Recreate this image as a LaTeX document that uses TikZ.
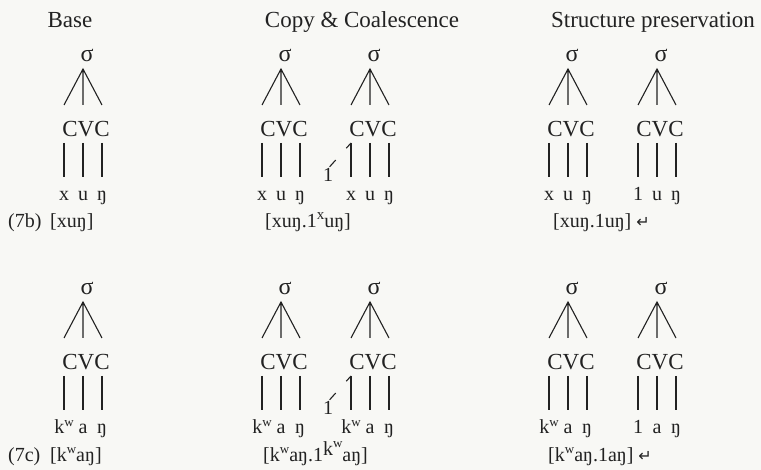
\documentclass[tikz,border=0pt]{standalone}
\usepackage{fontspec}
\setmainfont{Liberation Serif}
\newfontfamily\symfont{DejaVu Sans}
\definecolor{ink}{HTML}{222222}
\definecolor{paper}{HTML}{F8F8F5}
\newcommand\kw{k\raisebox{0.36em}{\fontsize{13}{13}\selectfont w}}
\newcommand\supx{\raisebox{0.42em}{\fontsize{15}{15}\selectfont x}}
\newcommand\retsym{\hspace{5pt}{\symfont\fontsize{16}{16}\selectfont ↵}}
% #1 name, #2 x of middle line, #3 row offset, #4-#6 segments
\newcommand\syltree[6]{%
  \node[sig] (#1-s) at ({#2+4},{#3+62}) {σ};
  \coordinate (#1-a) at ({#2},{#3+69});
  \coordinate (#1-t1) at ({#2-19},{#3+105});
  \coordinate (#1-t2) at ({#2},{#3+105});
  \coordinate (#1-t3) at ({#2+19},{#3+105});
  \node[skel] (#1-k) at ({#2+3},{#3+137}) {CVC};
  \coordinate (#1-b1) at ({#2-19},{#3+143});
  \coordinate (#1-b2) at ({#2},{#3+143});
  \coordinate (#1-b3) at ({#2+19},{#3+143});
  \coordinate (#1-c1) at ({#2-19},{#3+177});
  \coordinate (#1-c2) at ({#2},{#3+177});
  \coordinate (#1-c3) at ({#2+19},{#3+177});
  \node[seg] (#1-g1) at ({#2-19},{#3+201}) {#4};
  \node[seg] (#1-g2) at ({#2},{#3+201}) {#5};
  \node[seg] (#1-g3) at ({#2+19},{#3+201}) {#6};
  \draw[assoc] (#1-t1) -- (#1-a) -- (#1-t3) (#1-a) -- (#1-t2);
  \draw[assoc] (#1-b1) -- (#1-c1) (#1-b2) -- (#1-c2) (#1-b3) -- (#1-c3);
}
\begin{document}
\begin{tikzpicture}[x=1pt,y=-1pt,
  every node/.style={inner sep=0pt, text=ink},
  title/.style={font=\fontsize{23}{23}\selectfont, anchor=base},
  sig/.style={font=\fontsize{24}{24}\selectfont, anchor=base},
  skel/.style={font=\fontsize{23}{23}\selectfont, anchor=base},
  seg/.style={font=\fontsize{20}{20}\selectfont, anchor=base},
  lab/.style={font=\fontsize{20}{20}\selectfont, anchor=base west},
  assoc/.style={draw=ink, line width=1.1pt},
  hookdash/.style={draw=ink, line width=1.1pt, dash pattern=on 7pt off 16pt on 9pt off 30pt}]
\path[fill=paper] (0,0) rectangle (761,470);
\useasboundingbox (0,0) rectangle (761,470);
% titles
\node[title] (base) at (70,28) {Base};
\node[title] (copy) at (362,28) {Copy \& Coalescence};
\node[title] (struct) at (653,28) {Structure preservation};
% top row
\syltree{tA}{83}{0}{x}{u}{ŋ}
\syltree{tB}{281}{0}{x}{u}{ŋ}
\syltree{tBB}{370}{0}{x}{u}{ŋ}
\syltree{tC}{568}{0}{x}{u}{ŋ}
\syltree{tCC}{657}{0}{1}{u}{ŋ}
\node[seg] (tone) at (328,182) {1};
\draw[hookdash] (tBB-b1) -- (tone.north);
% bottom row
\syltree{bA}{83}{233}{\kw}{a}{ŋ}
\syltree{bB}{281}{233}{\kw}{a}{ŋ}
\syltree{bBB}{370}{233}{\kw}{a}{ŋ}
\syltree{bC}{568}{233}{\kw}{a}{ŋ}
\syltree{bCC}{657}{233}{1}{a}{ŋ}
\node[seg] (bone) at (328,415) {1};
\draw[hookdash] (bBB-b1) -- (bone.north);
% transcriptions
\node[lab] (l7b) at (8,228) {(7b)};
\node[lab] (tAt) at (50,228) {[xuŋ]};
\node[lab] (tBt) at (265,228) {[xuŋ.1\supx uŋ]};
\node[lab] (tCt) at (553,228) {[xuŋ.1uŋ]\retsym};
\node[lab] (l7c) at (8,461) {(7c)};
\node[lab] (bAt) at (50,461) {[\kw aŋ]};
\node[lab] (bBt) at (263,461) {[\kw aŋ.1\raisebox{0.3em}{\kw}aŋ]};
\node[lab] (bCt) at (548,461) {[\kw aŋ.1aŋ]\retsym};
\end{tikzpicture}
\end{document}
